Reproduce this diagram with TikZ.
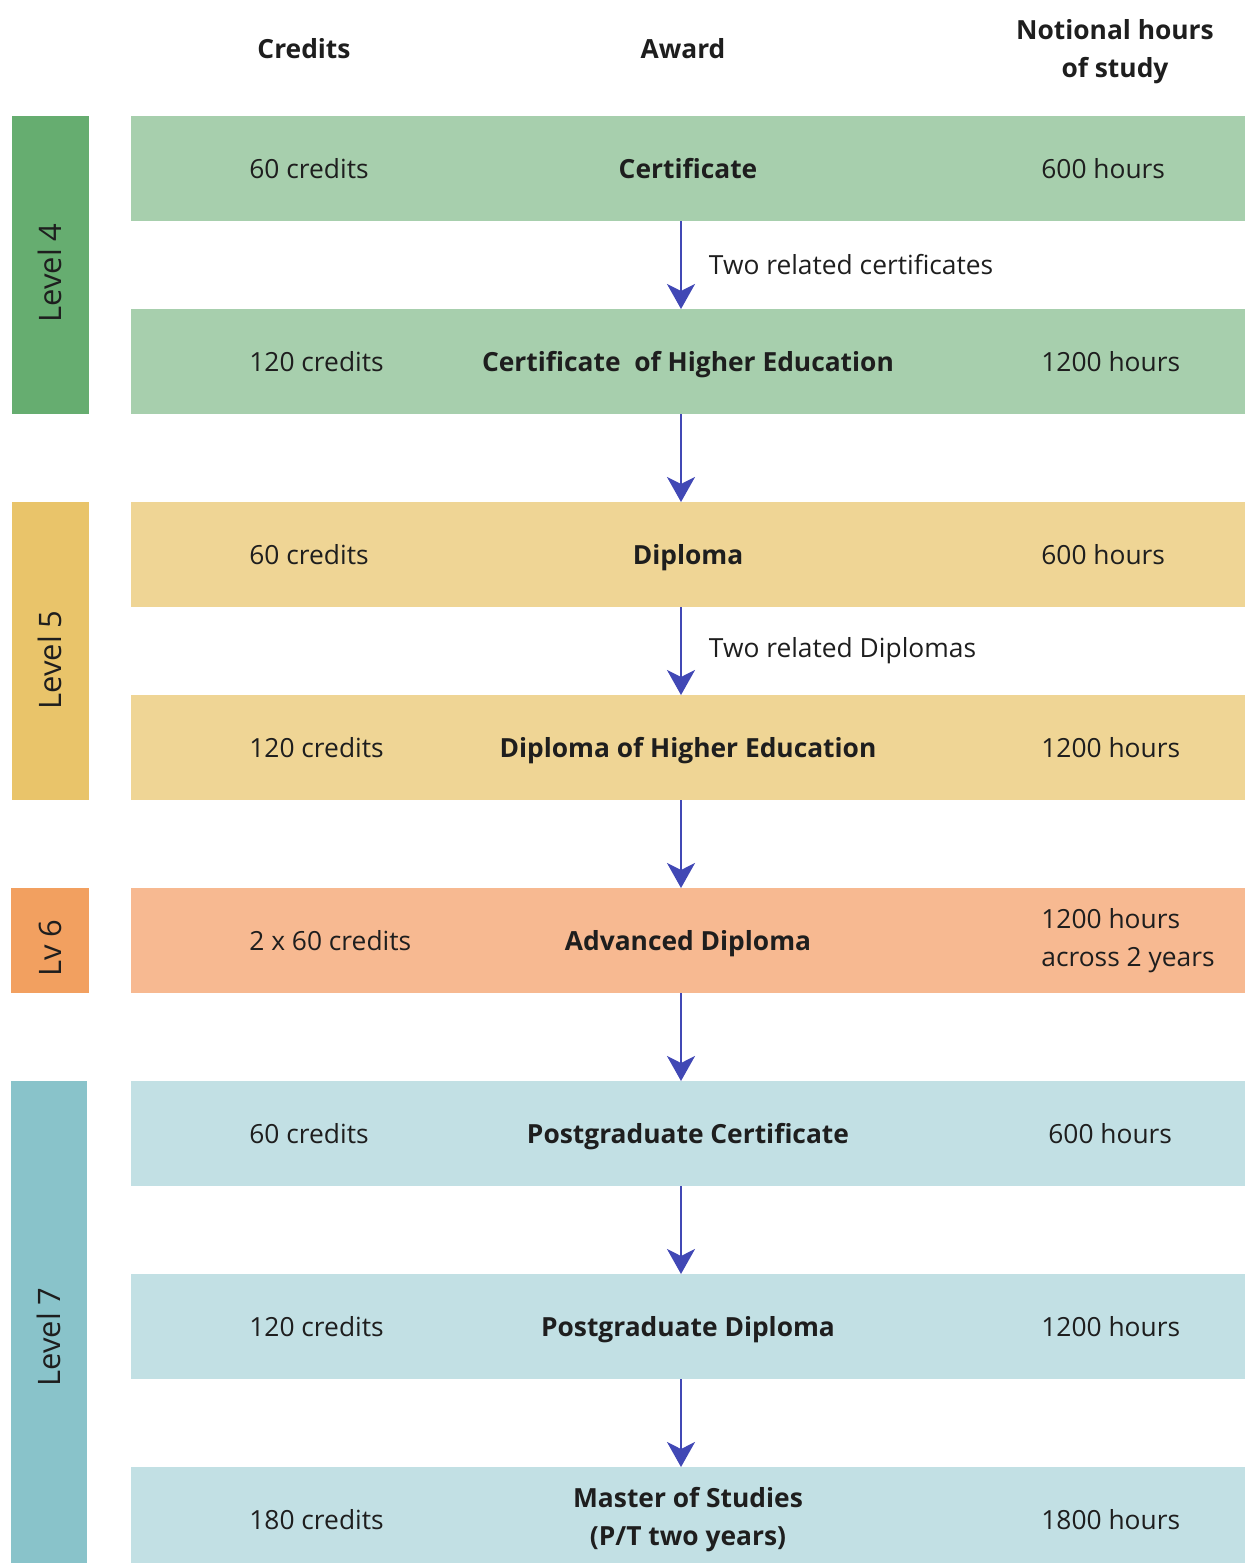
\documentclass[tikz,border=0pt]{standalone}
\usepackage{fontspec}
\setmainfont{Open Sans}
\usetikzlibrary{positioning, arrows.meta}

\definecolor{txt}{HTML}{1E1E1E}
\definecolor{flowblue}{HTML}{4148B5}
\definecolor{grnlight}{HTML}{A7CFAD}
\definecolor{grndark}{HTML}{66AD70}
\definecolor{yellight}{HTML}{EFD595}
\definecolor{yeldark}{HTML}{E9C46A}
\definecolor{orglight}{HTML}{F7B991}
\definecolor{orgdark}{HTML}{F2A060}
\definecolor{blulight}{HTML}{C2E0E4}
\definecolor{bludark}{HTML}{89C3CA}

\newcommand{\basefont}{\fontsize{15}{21.5}\selectfont}

\tikzset{
  band/.style={rectangle, fill=#1, minimum width=22.28cm, minimum height=2.1cm, inner sep=0pt,
    outer sep=0pt, text=txt, align=center, font=\basefont\bfseries, text height=11.4pt, text depth=0pt},
  credit/.style={right=2.36cm of #1.west, inner sep=0pt, text=txt, text height=11.4pt, text depth=0pt},
  hours/.style={right=18.2cm of #1.west, inner sep=0pt, text=txt, align=left},
  lvbox/.style={rectangle, fill=#1, minimum width=1.54cm, inner sep=0pt, outer sep=0pt, anchor=north west},
  lvtext/.style={rotate=90, inner sep=0pt, text=txt, font=\fontsize{17.6}{21}\selectfont},
  head/.style={inner sep=0pt, text=txt, align=center, font=\basefont\bfseries},
  flow/.style={-{Stealth[length=0.5cm, width=0.56cm, inset=0.14cm]}, line width=1.1pt, draw=flowblue},
  flowlabel/.style={right=0.54cm, inner sep=0pt, text=txt}
}

\begin{document}
\begin{tikzpicture}[font=\basefont, node distance=1.76cm]
  \path[use as bounding box, clip] (0,0) rectangle (24.9,-31.26);
  % column headers
  \node[head] (hcred) at (6.08,-0.98) {Credits};
  \node[head] (haward) at (13.66,-0.98) {Award};
  \node[head] (hhours) at (22.3,-1.04) {Notional hours\\of study};
  % level 4
  \node[band=grnlight, anchor=north west] (cert) at (2.62,-2.32) {Certificate};
  \node[band=grnlight, below=of cert] (certhe) {Certificate~ of Higher Education};
  % level 5
  \node[band=yellight, below=of certhe] (dip) {Diploma};
  \node[band=yellight, below=of dip] (diphe) {Diploma of Higher Education};
  % level 6
  \node[band=orglight, below=of diphe] (advdip) {Advanced Diploma};
  % level 7
  \node[band=blulight, below=of advdip] (pgcert) {Postgraduate Certificate};
  \node[band=blulight, below=of pgcert] (pgdip) {Postgraduate Diploma};
  \node[band=blulight, below=of pgdip, text height={}, text depth={}] (mst) {Master of Studies\\(P/T two years)};
  % credits
  \node[credit=cert] (cr1) {60 credits};
  \node[credit=certhe] (cr2) {120 credits};
  \node[credit=dip] (cr3) {60 credits};
  \node[credit=diphe] (cr4) {120 credits};
  \node[credit=advdip] (cr5) {2 x 60 credits};
  \node[credit=pgcert] (cr6) {60 credits};
  \node[credit=pgdip] (cr7) {120 credits};
  \node[credit=mst] (cr8) {180 credits};
  % notional hours
  \node[hours=cert] (hr1) {600 hours};
  \node[hours=certhe] (hr2) {1200 hours};
  \node[hours=dip] (hr3) {600 hours};
  \node[hours=diphe] (hr4) {1200 hours};
  \node[hours=advdip] (hr5) {1200 hours\\across 2 years};
  \node[hours=pgcert, xshift=0.14cm] (hr6) {600 hours};
  \node[hours=pgdip] (hr7) {1200 hours};
  \node[hours=mst] (hr8) {1800 hours};
  % level boxes
  \node[lvbox=grndark, minimum height=5.96cm] (lv4) at (0.24,-2.32) {};
  \node[lvbox=yeldark, minimum height=5.96cm] (lv5) at (0.24,-10.04) {};
  \node[lvbox=orgdark, minimum height=2.1cm, minimum width=1.56cm] (lv6) at (0.22,-17.76) {};
  \node[lvbox=bludark, minimum height=10cm, minimum width=1.52cm] (lv7) at (0.22,-21.62) {};
  \node[lvtext] (lv4t) at (1.0,-5.46) {Level 4};
  \node[lvtext] (lv5t) at (1.0,-13.2) {Level 5};
  \node[lvtext] (lv6t) at (1.0,-18.96) {Lv 6};
  \node[lvtext] (lv7t) at (0.98,-26.74) {Level 7};
  % progression arrows
  \draw[flow] ([xshift=-0.14cm]cert.south) -- node[flowlabel] {Two related certificates} ([xshift=-0.14cm]certhe.north);
  \draw[flow] ([xshift=-0.14cm]certhe.south) -- ([xshift=-0.14cm]dip.north);
  \draw[flow] ([xshift=-0.14cm]dip.south) -- node[flowlabel] {Two related Diplomas} ([xshift=-0.14cm]diphe.north);
  \draw[flow] ([xshift=-0.14cm]diphe.south) -- ([xshift=-0.14cm]advdip.north);
  \draw[flow] ([xshift=-0.14cm]advdip.south) -- ([xshift=-0.14cm]pgcert.north);
  \draw[flow] ([xshift=-0.14cm]pgcert.south) -- ([xshift=-0.14cm]pgdip.north);
  \draw[flow] ([xshift=-0.14cm]pgdip.south) -- ([xshift=-0.14cm]mst.north);
\end{tikzpicture}
\end{document}
